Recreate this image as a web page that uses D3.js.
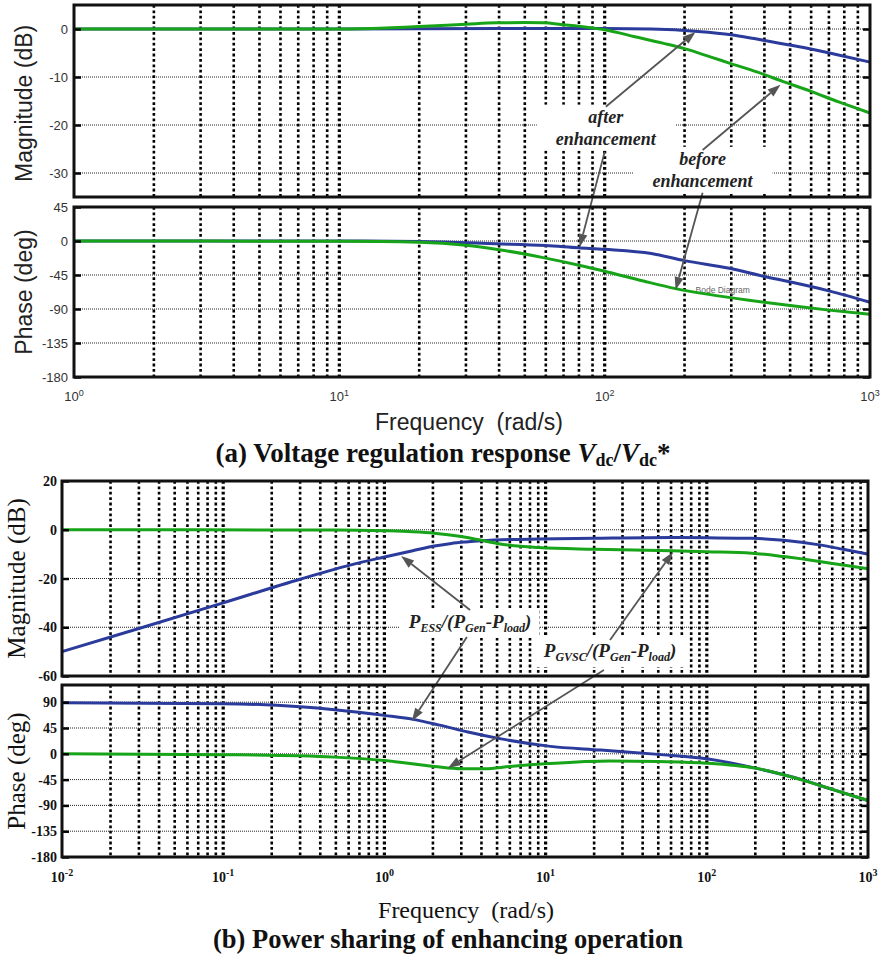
<!DOCTYPE html>
<html>
<head>
<meta charset="utf-8">
<script src="https://cdn.jsdelivr.net/npm/d3@7"></script>
<style>body{margin:0;background:#fff}</style>
</head>
<body>
<svg id="chart" width="884" height="957"></svg>
<script>
// ---- panel (a): Vdc/Vdc* ----
var aMagBeforeF = [1, 10, 15, 20, 30, 39, 50, 58.6, 70, 80, 90, 101, 130, 167, 200, 250, 295, 377, 468, 600, 762, 1000];
var aMagBeforeV = [0, 0, 0.2, 0.5, 1.0, 1.3, 1.35, 1.3, 0.9, 0.6, 0.2, -0.2, -1.6, -3.0, -4.1, -5.8, -7.1, -9.0, -10.9, -13.0, -15.2, -17.5];
var aMagAfterF  = [1, 10, 40, 100, 150, 225, 300, 366, 450, 580, 760, 1000];
var aMagAfterV  = [0, 0, 0.1, 0.1, 0, -0.5, -1.2, -2.0, -2.9, -4.0, -5.4, -6.9];
var aPhBeforeF  = [1, 10, 20, 30, 40, 58.6, 80, 100, 140, 185, 250, 350, 500, 700, 1000];
var aPhBeforeV  = [0, -0.3, -1.5, -5.5, -11.5, -22, -32, -40, -53, -63, -71, -78.5, -85.5, -91.5, -97];
var aPhAfterF   = [1, 10, 20, 39, 60, 79.5, 100, 150, 200, 295, 400, 497, 700, 1000];
var aPhAfterV   = [0, 0, -0.5, -3.6, -6, -9, -11, -16.5, -26, -36, -47, -54, -66, -81];
var aMagTicks = [0, -10, -20, -30];
var aPhTicks  = [45, 0, -45, -90, -135, -180];
var aFreqTicks = [1, 10, 100, 1000];

// ---- panel (b): power sharing ----
var bMagEssF  = [0.01, 0.03, 0.1, 0.3, 0.62, 1, 1.5, 2.04, 2.6, 3.2, 4, 6, 9, 20, 60, 100, 190, 300, 500, 700, 1000];
var bMagEssV  = [-50, -40.5, -30, -20.3, -14.4, -11.2, -8.6, -6.7, -5.6, -5.0, -4.5, -4.0, -3.8, -3.5, -3.2, -3.3, -3.5, -4.3, -6.2, -8.0, -10];
var bMagGvscF = [0.01, 0.5, 1, 1.5, 2.04, 3, 3.84, 5, 7, 9, 20, 60, 100, 190, 300, 500, 700, 1000];
var bMagGvscV = [0, -0.1, -0.4, -0.8, -1.4, -2.8, -4.1, -5.6, -6.8, -7.3, -8.0, -8.6, -9.0, -9.6, -11, -13, -14.5, -16];
var bPhEssF   = [0.01, 0.1, 0.3, 0.49, 1, 1.54, 2.2, 3.3, 5.3, 10.4, 22, 50, 100, 200, 388, 600, 1000];
var bPhEssV   = [89, 87.5, 82, 77, 67, 59.6, 50, 38, 26, 13.4, 6.5, -1, -8.7, -25, -45, -62, -81.5];
var bPhGvscF  = [0.01, 0.1, 0.3, 0.49, 1, 2.04, 3, 4.2, 6, 10.4, 25, 50, 100, 200, 388, 600, 1000];
var bPhGvscV  = [0, -1.5, -3.5, -5.8, -11.7, -22, -26, -26, -22, -17, -12.5, -13.5, -16.3, -25, -45.4, -62, -81.5];
var bMagTicks = [20, 0, -20, -40, -60];
var bPhTicks  = [90, 45, 0, -45, -90, -135, -180];
var bFreqTicks = [0.01, 0.1, 1, 10, 100, 1000];

var BLUE = '#2b3b9b', GREEN = '#18a418', ARROW = '#555';
var SANS = '"Liberation Sans", Arial, sans-serif', SERIF = '"Liberation Serif", "Times New Roman", serif';

var svg = d3.select('#chart');

// scales
var xA = d3.scaleLog().domain([1, 1000]).range([74, 870]);
var yAm = d3.scaleLinear().domain([-35, 5]).range([197, 5]);
var yAp = d3.scaleLinear().domain([-180, 45]).range([377, 207]);
var xB = d3.scaleLog().domain([0.01, 1000]).range([62, 868]);
var yBm = d3.scaleLinear().domain([-60, 20]).range([676, 481]);
var yBp = d3.scaleLinear().domain([-180, 120]).range([857, 685]);

var P = {am: [xA, yAm], ap: [xA, yAp], bm: [xB, yBm], bp: [xB, yBp]};

function zip(f, v){ return f.map(function(d, i){ return [d, v[i]]; }); }

function grid(parent, x, y, ticks){
	var g = parent.append('g');
	var x0 = x.range()[0], x1 = x.range()[1], yt = y.range()[1], yb = y.range()[0];
	var lo = x.domain()[0], hi = x.domain()[1], vf = [];
	for (var e = Math.round(Math.log10(lo)); e < Math.round(Math.log10(hi)); e++)
		for (var k = 1; k <= 9; k++){
			var f = k * Math.pow(10, e);
			if (f > lo * 1.001 && f < hi * 0.999) vf.push(f);
		}
	g.selectAll('line.hg').data(ticks.filter(function(t){ return t > y.domain()[0] && t < y.domain()[1]; }))
		.enter().append('line').attr('class', 'hg')
		.attr('x1', x0).attr('x2', x1).attr('y1', function(d){ return y(d); }).attr('y2', function(d){ return y(d); })
		.attr('stroke', '#222').attr('stroke-width', 1).attr('stroke-dasharray', '1,1');
	g.selectAll('line.vg').data(vf).enter().append('line').attr('class', 'vg')
		.attr('x1', function(d){ return x(d); }).attr('x2', function(d){ return x(d); })
		.attr('y1', yt).attr('y2', yb)
		.attr('stroke', '#000').attr('stroke-width', function(d){ return Math.abs(Math.log10(d) % 1) < 1e-6 ? 3.2 : 2.6; })
		.attr('stroke-dasharray', '2.8,2.6');
}

function frame(parent, x, y, ticks, font, size, weight, fill, labX){
	var g = parent.append('g');
	var x0 = x.range()[0], x1 = x.range()[1], yt = y.range()[1], yb = y.range()[0];
	g.append('g').attr('transform', 'translate(' + x0 + ',0)')
		.call(d3.axisLeft(y).tickValues(ticks).tickSizeInner(-7).tickSizeOuter(0).tickFormat(''))
		.call(function(s){ s.select('.domain').remove(); s.selectAll('line').attr('stroke', '#000').attr('stroke-width', 2.5); });
	g.append('g').attr('transform', 'translate(' + x1 + ',0)')
		.call(d3.axisRight(y).tickValues(ticks).tickSizeInner(-7).tickSizeOuter(0).tickFormat(''))
		.call(function(s){ s.select('.domain').remove(); s.selectAll('line').attr('stroke', '#000').attr('stroke-width', 2.5); });
	g.selectAll('text.yl').data(ticks).enter().append('text').attr('class', 'yl')
		.attr('x', labX).attr('y', function(d){ return y(d); }).attr('dy', '0.36em')
		.attr('text-anchor', 'end').attr('font-family', font).attr('font-size', size)
		.attr('font-weight', weight).attr('fill', fill).text(function(d){ return d; });
	g.append('rect').attr('x', x0).attr('y', yt).attr('width', x1 - x0).attr('height', yb - yt)
		.attr('fill', 'none').attr('stroke', '#111').attr('stroke-width', 3);
}

function freqLabels(parent, x, ticks, yPos, font, size, sup, weight, fill){
	var g = parent.append('g');
	var t = g.selectAll('text.xl').data(ticks).enter().append('text').attr('class', 'xl')
		.attr('x', function(d){ return x(d); }).attr('y', yPos).attr('text-anchor', 'middle')
		.attr('font-family', font).attr('font-size', size).attr('font-weight', weight).attr('fill', fill);
	t.append('tspan').text('10');
	t.append('tspan').attr('dy', -size * 0.42).attr('font-size', sup).text(function(d){ return Math.round(Math.log10(d)); });
}

function curve(g, key, f, v, color){
	var x = P[key][0], y = P[key][1];
	g.append('path').datum(zip(f, v))
		.attr('fill', 'none').attr('stroke', color).attr('stroke-width', 3).attr('stroke-linejoin', 'round')
		.attr('d', d3.line().x(function(d){ return x(d[0]); }).y(function(d){ return y(d[1]); }).curve(d3.curveMonotoneX));
}

function pt(p){ return [P[p[0]][0](p[1]), P[p[0]][1](p[2])]; }

function arrow(g, from, to){
	var a = pt(from), b = pt(to);
	var ang = Math.atan2(b[1] - a[1], b[0] - a[0]), L = 13, W = 4.5;
	var bx = b[0] - L * Math.cos(ang), by = b[1] - L * Math.sin(ang);
	g.append('line').attr('x1', a[0]).attr('y1', a[1]).attr('x2', bx).attr('y2', by)
		.attr('stroke', ARROW).attr('stroke-width', 1.8);
	g.append('path').attr('fill', ARROW)
		.attr('d', 'M' + b[0] + ',' + b[1] + 'L' + (bx + W * Math.sin(ang)) + ',' + (by - W * Math.cos(ang)) +
			'L' + (bx - W * Math.sin(ang)) + ',' + (by + W * Math.cos(ang)) + 'Z');
}

// white box behind a text node (hides grid)
function boxUnder(g, node, px, py){
	var bb = node.getBBox();
	g.append('rect').attr('x', bb.x - px).attr('y', bb.y - py)
		.attr('width', bb.width + 2 * px).attr('height', bb.height + 2 * py).attr('fill', '#fff');
}

/* ================= PANEL (a) ================= */
var ga = svg.append('g');
var gaGrid = ga.append('g'), gaBox = ga.append('g'), gaCurve = ga.append('g'), gaTop = ga.append('g');
grid(gaGrid, xA, yAm, aMagTicks);
grid(gaGrid, xA, yAp, aPhTicks);

gaCurve.append('text').attr('x', xA(220)).attr('y', yAp(-68.8)).attr('font-family', SANS)
	.attr('font-size', 8.5).attr('fill', '#666').text('Bode Diagram');

curve(gaCurve, 'am', aMagAfterF, aMagAfterV, BLUE);
curve(gaCurve, 'am', aMagBeforeF, aMagBeforeV, GREEN);
curve(gaCurve, 'ap', aPhAfterF, aPhAfterV, BLUE);
curve(gaCurve, 'ap', aPhBeforeF, aPhBeforeV, GREEN);

// annotations (a)
var aNotes = [
	{lines: ['after', 'enhancement'], f: 101, v: -19.5},
	{lines: ['before', 'enhancement'], f: 234, v: -28.3}
];
aNotes.forEach(function(n){
	var t = gaTop.append('text').attr('x', xA(n.f)).attr('y', yAm(n.v)).attr('text-anchor', 'middle')
		.attr('font-family', SERIF).attr('font-size', 18).attr('font-weight', 'bold').attr('font-style', 'italic').attr('fill', '#222');
	n.lines.forEach(function(l, i){ t.append('tspan').attr('x', xA(n.f)).attr('dy', i ? 22 : 0).text(l); });
	boxUnder(gaBox, t.node(), 19, 2);
});
var aArrows = [
	[['am', 101, -16.2], ['am', 220, -0.6]],
	[['am', 100, -25.6], ['ap', 80.5, -8]],
	[['am', 234, -25.2], ['am', 460, -11.6]],
	[['am', 234, -34.1], ['ap', 185, -64.8]]
];
aArrows.forEach(function(a){ arrow(gaTop, a[0], a[1]); });

frame(gaTop, xA, yAm, aMagTicks, SANS, 13, 'normal', '#333', 68);
frame(gaTop, xA, yAp, aPhTicks, SANS, 13, 'normal', '#333', 68);
freqLabels(gaTop, xA, aFreqTicks, 401, SANS, 13, 9, 'normal', '#333');

gaTop.append('text').attr('transform', 'translate(32,' + yAm(-15.5) + ') rotate(-90)').attr('text-anchor', 'middle')
	.attr('font-family', SANS).attr('font-size', 23).attr('fill', '#222').text('Magnitude (dB)');
gaTop.append('text').attr('transform', 'translate(32,' + yAp(-67.5) + ') rotate(-90)').attr('text-anchor', 'middle')
	.attr('font-family', SANS).attr('font-size', 23).attr('fill', '#222').text('Phase (deg)');
gaTop.append('text').attr('x', 469).attr('y', 430).attr('text-anchor', 'middle').attr('font-family', SANS)
	.attr('font-size', 23).attr('fill', '#222').attr('xml:space', 'preserve').text('Frequency  (rad/s)');

var capA = gaTop.append('text').attr('x', 443).attr('y', 462).attr('text-anchor', 'middle')
	.attr('font-family', SERIF).attr('font-size', 27).attr('font-weight', 'bold').attr('fill', '#111');
capA.append('tspan').text('(a) Voltage regulation response ');
capA.append('tspan').attr('font-style', 'italic').text('V');
capA.append('tspan').attr('font-size', 18).attr('dy', 4).text('dc');
capA.append('tspan').attr('dy', -4).text('/');
capA.append('tspan').attr('font-style', 'italic').text('V');
capA.append('tspan').attr('font-size', 18).attr('dy', 4).text('dc');
capA.append('tspan').attr('dy', -4).text('*');

/* ================= PANEL (b) ================= */
var gb = svg.append('g');
var gbGrid = gb.append('g'), gbBox = gb.append('g'), gbCurve = gb.append('g'), gbTop = gb.append('g');
grid(gbGrid, xB, yBm, bMagTicks);
grid(gbGrid, xB, yBp, bPhTicks);

curve(gbCurve, 'bm', bMagEssF, bMagEssV, BLUE);
curve(gbCurve, 'bm', bMagGvscF, bMagGvscV, GREEN);
curve(gbCurve, 'bp', bPhEssF, bPhEssV, BLUE);
curve(gbCurve, 'bp', bPhGvscF, bPhGvscV, GREEN);

var bNotes = [
	{sub: 'ESS', x: 3.4, v: -40.3},
	{sub: 'GVSC', x: 25.1, v: -52.2}
];
bNotes.forEach(function(n){
	var t = gbTop.append('text').attr('x', xB(n.x)).attr('y', yBm(n.v)).attr('text-anchor', 'middle')
		.attr('font-family', SERIF).attr('font-size', 19).attr('font-weight', 'bold').attr('font-style', 'italic').attr('fill', '#222');
	t.append('tspan').text('P');
	t.append('tspan').attr('font-size', 12).attr('dy', 4).text(n.sub);
	t.append('tspan').attr('dy', -4).text('/(P');
	t.append('tspan').attr('font-size', 12).attr('dy', 4).text('Gen');
	t.append('tspan').attr('dy', -4).text('-P');
	t.append('tspan').attr('font-size', 12).attr('dy', 4).text('load');
	t.append('tspan').attr('dy', -4).text(')');
	boxUnder(gbBox, t.node(), 8, 3);
});
var bArrows = [
	[['bm', 3.4, -32.9], ['bm', 1.27, -10.8]],
	[['bm', 3.25, -44], ['bp', 1.48, 57.2]],
	[['bm', 25.1, -45.2], ['bm', 61.7, -9.1]],
	[['bm', 23, -57.5], ['bp', 2.48, -24.8]]
];
bArrows.forEach(function(a){ arrow(gbTop, a[0], a[1]); });

frame(gbTop, xB, yBm, bMagTicks, SERIF, 14, 'bold', '#111', 57);
frame(gbTop, xB, yBp, bPhTicks, SERIF, 14, 'bold', '#111', 57);
freqLabels(gbTop, xB, bFreqTicks, 882, SERIF, 14, 10, 'bold', '#111');

gbTop.append('text').attr('transform', 'translate(25,' + yBm(-20) + ') rotate(-90)').attr('text-anchor', 'middle')
	.attr('font-family', SERIF).attr('font-size', 25).attr('fill', '#111').text('Magnitude (dB)');
gbTop.append('text').attr('transform', 'translate(25,' + yBp(-30) + ') rotate(-90)').attr('text-anchor', 'middle')
	.attr('font-family', SERIF).attr('font-size', 25).attr('fill', '#111').text('Phase (deg)');
gbTop.append('text').attr('x', 466).attr('y', 918).attr('text-anchor', 'middle').attr('font-family', SERIF)
	.attr('font-size', 24).attr('fill', '#111').attr('xml:space', 'preserve').text('Frequency  (rad/s)');
gbTop.append('text').attr('x', 448).attr('y', 948).attr('text-anchor', 'middle').attr('font-family', SERIF)
	.attr('font-size', 26.5).attr('font-weight', 'bold').attr('fill', '#111').text('(b) Power sharing of enhancing operation');
</script>
</body>
</html>
